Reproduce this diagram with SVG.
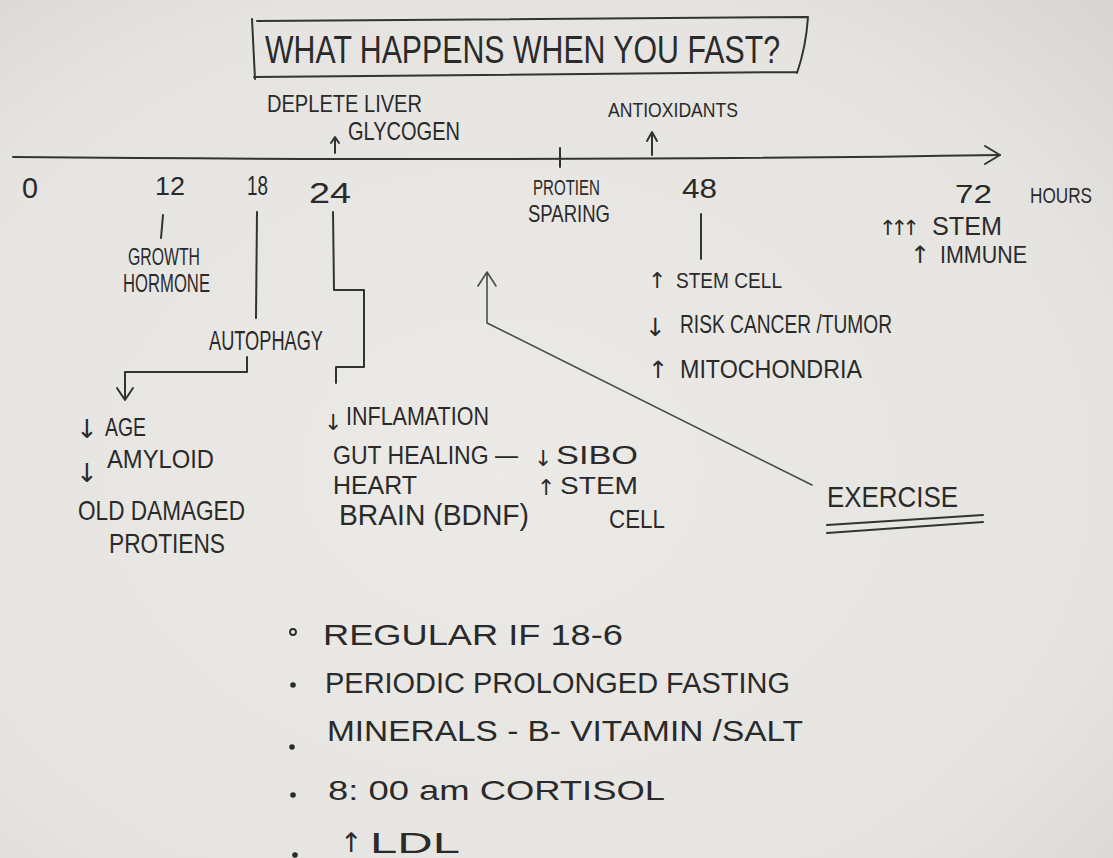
<svg xmlns="http://www.w3.org/2000/svg" width="1113" height="858" viewBox="0 0 1113 858">
<defs>
<radialGradient id="paper" cx="0.45" cy="0.55" r="0.8">
<stop offset="0" stop-color="#eceae7"/>
<stop offset="0.7" stop-color="#e6e4e1"/>
<stop offset="1" stop-color="#d6d4d1"/>
</radialGradient>
<style>
text{font-family:"Liberation Sans","DejaVu Sans",sans-serif;fill:#2a2a2a;}
.arw{font-family:"DejaVu Sans",sans-serif;fill:#2a2a2a;}
.ink{fill:none;stroke:#333;stroke-width:2;stroke-linecap:round;stroke-linejoin:round;}
.thin{fill:none;stroke:#4a4a4a;stroke-width:1.6;stroke-linecap:round;stroke-linejoin:round;}
.dot{fill:#2a2a2a;}
</style>
</defs>
<rect x="0" y="0" width="1113" height="858" fill="url(#paper)"/>

<g id="title">
<path class="ink" d="M252,19 L255,79 M254,77 L797,72 M257,21 L808,17 Q806,47 797,73"/>
<text x="265" y="63" font-size="38" textLength="515" lengthAdjust="spacingAndGlyphs">WHAT  HAPPENS WHEN YOU FAST?</text>
</g>

<g id="connectors">
<path class="ink" d="M13,157 Q560,162 1000,155"/>
<path class="ink" d="M985,146 L1000,155 L985,164"/>
<path class="ink" d="M560,148 L560,167"/>
<path class="ink" d="M335,153 L335,138 M331,143 L335,137 L339,143"/>
<path class="ink" d="M652,155 L652,133 M647,141 L652,132 L657,141"/>
<path class="ink" d="M163,215 L161,238"/>
<path class="ink" d="M257,212 L256,318"/>
<path class="ink" d="M333,212 L334,290 L364,290 L364,367 L336,367 L336,383"/>
<path class="ink" d="M247,357 L247,372 L125,372 L125,399 M117,388 L125,400 L133,388"/>
<path class="ink" d="M701,214 L701,259"/>
<path class="thin" d="M812,485 L487,323 L487,273 M478,286 L487,272 L496,286"/>
</g>

<g id="depleteGlycogen">
<text x="267" y="112" font-size="23" textLength="155" lengthAdjust="spacingAndGlyphs">DEPLETE LIVER</text>
<text x="348" y="140" font-size="25" textLength="112" lengthAdjust="spacingAndGlyphs">GLYCOGEN</text>
</g>

<g id="antioxidants">
<text x="608" y="117" font-size="21" textLength="130" lengthAdjust="spacingAndGlyphs">ANTIOXIDANTS</text>
</g>

<g id="axisLabels">
<text x="22" y="198" font-size="30" textLength="16" lengthAdjust="spacingAndGlyphs">0</text>
<text x="155" y="195" font-size="26" textLength="30" lengthAdjust="spacingAndGlyphs">12</text>
<text x="247" y="195" font-size="27" textLength="21" lengthAdjust="spacingAndGlyphs">18</text>
<text x="309" y="203" font-size="30" textLength="42" lengthAdjust="spacingAndGlyphs">24</text>
<text x="682" y="198" font-size="27" textLength="35" lengthAdjust="spacingAndGlyphs">48</text>
<text x="955" y="203" font-size="26" textLength="37" lengthAdjust="spacingAndGlyphs">72</text>
<text x="1030" y="203" font-size="22" textLength="62" lengthAdjust="spacingAndGlyphs">HOURS</text>
</g>

<g id="proteinSparing">
<text x="533" y="195" font-size="22" textLength="67" lengthAdjust="spacingAndGlyphs">PROTIEN</text>
<text x="528" y="222" font-size="24" textLength="82" lengthAdjust="spacingAndGlyphs">SPARING</text>
</g>

<g id="h72">
<text class="arw" x="879" y="235" font-size="21" letter-spacing="-6">↑↑↑</text>
<text x="932" y="235" font-size="26" textLength="70" lengthAdjust="spacingAndGlyphs">STEM</text>
<text class="arw" x="910" y="263" font-size="24">↑</text>
<text x="940" y="263" font-size="24" textLength="87" lengthAdjust="spacingAndGlyphs">IMMUNE</text>
</g>

<g id="h48">
<text class="arw" x="648" y="288" font-size="22">↑</text>
<text x="676" y="288" font-size="22" textLength="106" lengthAdjust="spacingAndGlyphs">STEM CELL</text>
<text class="arw" x="645" y="336" font-size="25">↓</text>
<text x="680" y="333" font-size="25" textLength="212" lengthAdjust="spacingAndGlyphs">RISK CANCER /TUMOR</text>
<text class="arw" x="648" y="378" font-size="24">↑</text>
<text x="680" y="378" font-size="26" textLength="182" lengthAdjust="spacingAndGlyphs">MITOCHONDRIA</text>
</g>

<g id="growthHormone">
<text x="128" y="265" font-size="24" textLength="72" lengthAdjust="spacingAndGlyphs">GROWTH</text>
<text x="123" y="292" font-size="25" textLength="87" lengthAdjust="spacingAndGlyphs">HORMONE</text>
</g>

<g id="autophagy">
<text x="209" y="350" font-size="28" textLength="114" lengthAdjust="spacingAndGlyphs">AUTOPHAGY</text>
</g>

<g id="autophagyEffects">
<text class="arw" x="76" y="438" font-size="26">↓</text>
<text x="105" y="436" font-size="26" textLength="41" lengthAdjust="spacingAndGlyphs">AGE</text>
<text class="arw" x="76" y="482" font-size="26">↓</text>
<text x="107" y="468" font-size="26" textLength="107" lengthAdjust="spacingAndGlyphs">AMYLOID</text>
<text x="78" y="520" font-size="28" textLength="167" lengthAdjust="spacingAndGlyphs">OLD DAMAGED</text>
<text x="109" y="553" font-size="28" textLength="116" lengthAdjust="spacingAndGlyphs">PROTIENS</text>
</g>

<g id="h24Effects">
<text class="arw" x="324" y="430" font-size="22">↓</text>
<text x="346" y="425" font-size="26" textLength="143" lengthAdjust="spacingAndGlyphs">INFLAMATION</text>
<text x="333" y="464" font-size="25" textLength="185" lengthAdjust="spacingAndGlyphs">GUT HEALING  —</text>
<text class="arw" x="534" y="466" font-size="22">↓</text>
<text x="556" y="464" font-size="25" textLength="82" lengthAdjust="spacingAndGlyphs">SIBO</text>
<text x="333" y="494" font-size="25" textLength="84" lengthAdjust="spacingAndGlyphs">HEART</text>
<text class="arw" x="537" y="495" font-size="22">↑</text>
<text x="560" y="494" font-size="24" textLength="78" lengthAdjust="spacingAndGlyphs">STEM</text>
<text x="339" y="525" font-size="29" textLength="190" lengthAdjust="spacingAndGlyphs">BRAIN (BDNF)</text>
<text x="609" y="528" font-size="25" textLength="56" lengthAdjust="spacingAndGlyphs">CELL</text>
</g>

<g id="exercise">
<text x="827" y="507" font-size="29" textLength="131" lengthAdjust="spacingAndGlyphs">EXERCISE</text>
<path class="ink" d="M827,525 L983,515 M827,533 L983,522"/>
</g>

<g id="notes">
<circle cx="293" cy="632" r="3" fill="none" stroke="#2a2a2a" stroke-width="1.8"/>
<text x="323" y="645" font-size="29" textLength="300" lengthAdjust="spacingAndGlyphs">REGULAR  IF  18-6</text>
<circle class="dot" cx="293" cy="685" r="2.8"/>
<text x="325" y="693" font-size="29" textLength="465" lengthAdjust="spacingAndGlyphs">PERIODIC  PROLONGED  FASTING</text>
<circle class="dot" cx="292" cy="747" r="2.8"/>
<text x="327" y="741" font-size="29" textLength="476" lengthAdjust="spacingAndGlyphs">MINERALS  - B- VITAMIN /SALT</text>
<circle class="dot" cx="293" cy="795" r="2.8"/>
<text x="328" y="800" font-size="28" textLength="337" lengthAdjust="spacingAndGlyphs">8: 00 am  CORTISOL</text>
<circle class="dot" cx="295" cy="855" r="2.8"/>
<text class="arw" x="340" y="852" font-size="27">↑</text>
<text x="370" y="853" font-size="29" textLength="90" lengthAdjust="spacingAndGlyphs">LDL</text>
</g>
</svg>
